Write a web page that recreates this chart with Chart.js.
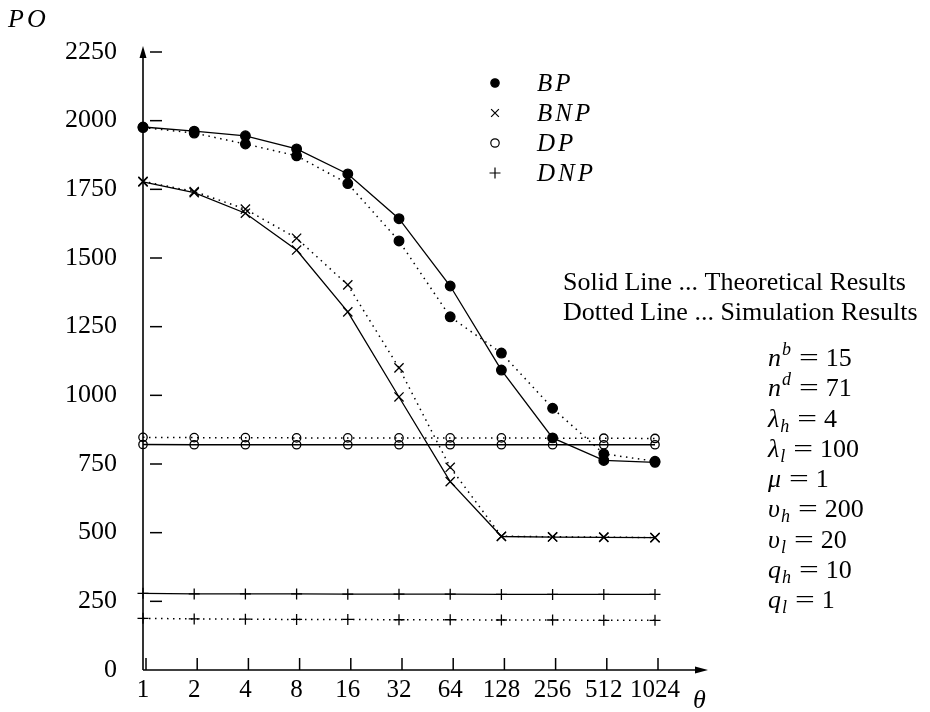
<!DOCTYPE html>
<html><head><meta charset="utf-8">
<script src="https://cdn.jsdelivr.net/npm/chart.js@4.4.1/dist/chart.umd.min.js"></script>
<style>html,body{margin:0;padding:0;background:#fff;}#wrap{width:930px;height:712px;position:relative;}</style>
</head><body><div id="wrap"><canvas id="c" width="930" height="712"></canvas></div>
<script>
// ---- data ----
const thetaLabels = ['1','2','4','8','16','32','64','128','256','512','1024'];
const bpTheory  = [1977, 1962, 1945, 1897, 1806, 1643, 1398, 1092, 845, 763, 756];
const bpSim     = [1975, 1955, 1915, 1872, 1771, 1562, 1286, 1154, 953, 787, 760];
const bnpTheory = [1777, 1738, 1663, 1529, 1304, 994, 686, 486, 484, 483, 482];
const bnpSim    = [1779, 1742, 1678, 1572, 1402, 1100, 738, 487, 485, 484, 482];
const dpTheory  = [821, 820, 820, 820, 820, 820, 820, 820, 820, 820, 820];
const dpSim     = [847, 846, 846, 845, 845, 845, 845, 845, 844, 844, 843];
const dnpTheory = [279, 277, 277, 277, 276, 276, 276, 275, 275, 275, 275];
const dnpSim    = [188, 186, 185, 184, 184, 183, 183, 182, 182, 181, 181];
const yTickValues = [250, 500, 750, 1000, 1250, 1500, 1750, 2000, 2250];
const legendNames = ['BP', 'BNP', 'DP', 'DNP'];
const noteLines = ['Solid Line ... Theoretical Results', 'Dotted Line ... Simulation Results'];
const params = [
  ['n','sup','b','15'], ['n','sup','d','71'], ['λ','sub','h','4'], ['λ','sub','l','100'],
  ['μ','','','1'], ['υ','sub','h','200'], ['υ','sub','l','20'], ['q','sub','h','10'], ['q','sub','l','1']
];

const SERIF = '"Liberation Serif","DejaVu Serif",serif';
const DOT = [1.5, 4.5];

function ds(label, data, dashed, style, radius, fill) {
  return {
    label, data,
    borderColor: '#000', borderWidth: dashed ? 1.5 : 1.3,
    borderDash: dashed ? DOT : [],
    pointStyle: style, pointRadius: radius, pointHoverRadius: radius,
    pointBorderColor: '#000', pointBorderWidth: 1.3,
    pointBackgroundColor: fill ? '#000' : 'rgba(0,0,0,0)',
    fill: false, tension: 0
  };
}

const legendStyles = [
  {style:'circle', r:4.2, fill:true},
  {style:'crossRot', r:5.5, fill:false},
  {style:'circle', r:4.2, fill:false},
  {style:'cross', r:5.5, fill:false}
];

const overlay = {
  id: 'overlay',
  afterDraw(chart) {
    const ctx = chart.ctx;
    const xs = chart.scales.x, ys = chart.scales.y;
    const left = xs.getPixelForValue(0);
    const bottom = ys.getPixelForValue(0);
    ctx.save();
    ctx.strokeStyle = '#000'; ctx.fillStyle = '#000';
    ctx.lineWidth = 1.6;
    // y axis with arrow
    ctx.beginPath(); ctx.moveTo(left, bottom); ctx.lineTo(left, 56); ctx.stroke();
    ctx.beginPath(); ctx.moveTo(left, 46); ctx.lineTo(left - 3.5, 58); ctx.lineTo(left + 3.5, 58); ctx.closePath(); ctx.fill();
    // x axis with arrow
    ctx.beginPath(); ctx.moveTo(left, bottom); ctx.lineTo(697, bottom); ctx.stroke();
    ctx.beginPath(); ctx.moveTo(708, bottom); ctx.lineTo(695, bottom - 3.5); ctx.lineTo(695, bottom + 3.5); ctx.closePath(); ctx.fill();
    // y tick dashes (inside)
    ctx.lineWidth = 1.5;
    yTickValues.forEach(v => {
      const py = ys.getPixelForValue(v);
      ctx.beginPath(); ctx.moveTo(left + 7, py); ctx.lineTo(left + 19, py); ctx.stroke();
    });
    // x tick marks (inside)
    thetaLabels.forEach((l, i) => {
      const px = xs.getPixelForValue(i) + 3;
      ctx.beginPath(); ctx.moveTo(px, bottom - 12); ctx.lineTo(px, bottom); ctx.stroke();
    });
    // axis titles
    ctx.font = 'italic 26px ' + SERIF;
    ctx.textBaseline = 'alphabetic'; ctx.textAlign = 'left';
    ctx.letterSpacing = '3px';
    ctx.fillText('PO', 8, 27);
    ctx.letterSpacing = '0px';
    ctx.fillText('θ', 693, 708);
    // legend
    legendNames.forEach((name, i) => {
      const y = 83 + i * 30;
      const st = legendStyles[i];
      ctx.fillStyle = st.fill ? '#000' : 'rgba(0,0,0,0)';
      ctx.strokeStyle = '#000'; ctx.lineWidth = 1.2;
      Chart.helpers.drawPoint(ctx, {pointStyle: st.style, radius: st.r, rotation: 0, borderWidth: 1.2}, 495, y);
      ctx.fillStyle = '#000';
      ctx.font = 'italic 25px ' + SERIF;
      ctx.letterSpacing = '3px';
      ctx.textBaseline = 'middle';
      ctx.fillText(name, 537, y + 1);
      ctx.letterSpacing = '0px';
    });
    // notes
    ctx.font = '26px ' + SERIF;
    ctx.textBaseline = 'alphabetic';
    ctx.fillText(noteLines[0], 563, 290);
    ctx.fillText(noteLines[1], 563, 320);
    // parameters
    params.forEach((p, i) => {
      const base = 366 + i * 30.25;
      let x = 768;
      ctx.font = 'italic 26px ' + SERIF;
      ctx.fillText(p[0], x, base);
      x += ctx.measureText(p[0]).width;
      if (p[1]) {
        ctx.font = 'italic 18px ' + SERIF;
        const dy = p[1] === 'sup' ? -11 : 5;
        ctx.fillText(p[2], x + 1, base + dy);
        x += ctx.measureText(p[2]).width + 1;
      }
      ctx.font = '26px ' + SERIF;
      x += 8;
      ctx.save(); ctx.translate(x, base); ctx.scale(1.35, 1); ctx.fillText('=', 0, 0); ctx.restore();
      x += ctx.measureText('=').width * 1.35 + 7;
      ctx.fillText(p[3], x, base);
    });
    ctx.restore();
  }
};

new Chart(document.getElementById('c'), {
  type: 'line',
  data: {
    labels: thetaLabels,
    datasets: [
      ds('BP theory', bpTheory, false, 'circle', 4.8, true),
      ds('BP simulation', bpSim, true, 'circle', 4.8, true),
      ds('BNP theory', bnpTheory, false, 'crossRot', 6.5, false),
      ds('BNP simulation', bnpSim, true, 'crossRot', 6.5, false),
      ds('DP theory', dpTheory, false, 'circle', 4.2, false),
      ds('DP simulation', dpSim, true, 'circle', 4.2, false),
      ds('DNP theory', dnpTheory, false, 'cross', 5.5, false),
      ds('DNP simulation', dnpSim, true, 'cross', 5.5, false)
    ]
  },
  options: {
    responsive: false, animation: false, devicePixelRatio: 1,
    layout: { padding: { left: 0, right: 275, top: 52, bottom: 0 } },
    plugins: { legend: { display: false }, tooltip: { enabled: false } },
    scales: {
      x: {
        type: 'category', offset: false,
        grid: { display: false, drawTicks: false }, border: { display: false },
        ticks: { color: '#000', font: { family: SERIF, size: 25 }, padding: 5, maxRotation: 0, autoSkip: false },
        afterFit(s) { s.height = 42; }
      },
      y: {
        min: 0, max: 2250,
        grid: { display: false, drawTicks: false }, border: { display: false },
        ticks: { stepSize: 250, color: '#000', font: { family: SERIF, size: 26 }, padding: 26,
                 callback: (v) => String(v) },
        afterFit(s) { s.width = 143; }
      }
    }
  },
  plugins: [overlay]
});
</script></body></html>
